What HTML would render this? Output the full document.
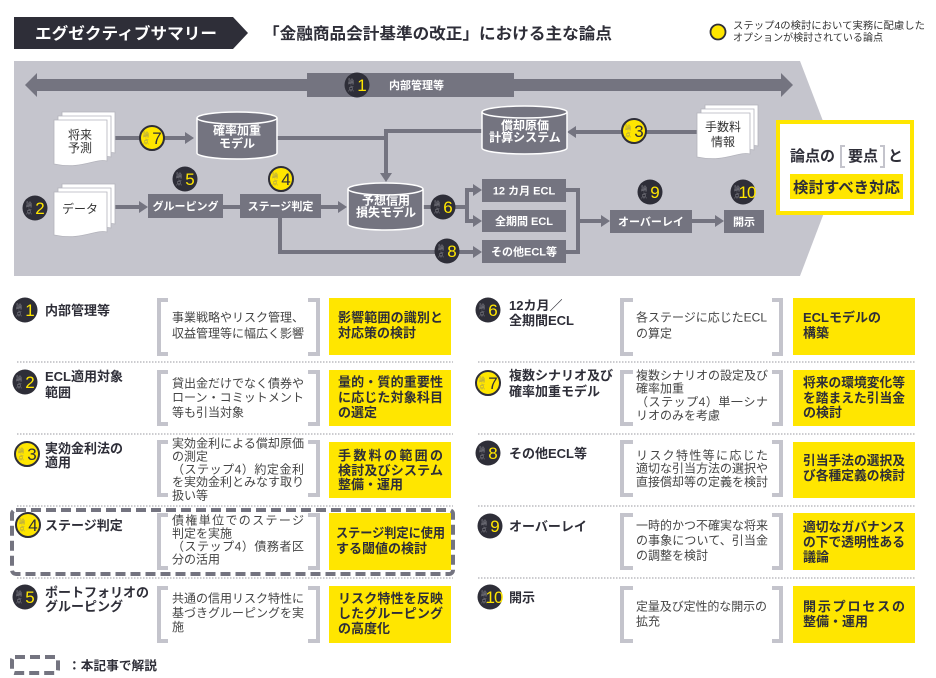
<!DOCTYPE html>
<html><head><meta charset="utf-8">
<style>
html,body{margin:0;padding:0;background:#fff;}
svg{display:block;font-family:"Liberation Sans","Noto Sans CJK JP",sans-serif;}
.w{fill:#fff;font-weight:bold;font-size:11px;text-anchor:middle;}
.cy{fill:#fff;font-weight:bold;font-size:12px;text-anchor:middle;}
.t{fill:#2e2e38;font-weight:bold;font-size:13px;}
.b{fill:#444;font-size:12px;}
.y{fill:#2e2e38;font-weight:bold;font-size:13px;}
.ln{stroke:#747480;stroke-width:4;fill:none;}
.ah{fill:#747480;}
.sm{font-size:6px;text-anchor:middle;}
.dk{fill:#2e2e38;}
.nd{fill:#ffe600;font-size:17px;text-anchor:middle;}
.ny{fill:#2e2e38;font-size:17px;text-anchor:middle;}
.br{stroke:#c4c4cc;stroke-width:4;fill:none;}
.sep{stroke:#9a9aa0;stroke-width:1;stroke-dasharray:1.5 1.5;}
.pg{fill:#fff;stroke:#b4b4bc;stroke-width:0.8;}
.dt{fill:#333;font-size:12px;text-anchor:middle;}
</style></head><body>
<svg width="936" height="678" viewBox="0 0 936 678">
<defs>
<g id="bd"><circle r="12.5" fill="#2e2e38"/><text x="-6" y="-1" class="sm" fill="#8d8d95">論</text><text x="-6" y="6" class="sm" fill="#8d8d95">点</text></g>
<g id="by"><circle r="12" fill="#ffe600" stroke="#2e2e38" stroke-width="2"/><text x="-6" y="-1" class="sm" fill="#9a9260">論</text><text x="-6" y="6" class="sm" fill="#9a9260">点</text></g>
</defs>

<!-- Header -->
<polygon points="14,17 233,17 248,33 233,49 14,49" fill="#2e2e38"/>
<text x="35" y="39" fill="#fff" font-weight="bold" font-size="16" textLength="182" lengthAdjust="spacingAndGlyphs">エグゼクティブサマリー</text>
<text x="263" y="39" fill="#2e2e38" font-weight="bold" font-size="16" textLength="349" lengthAdjust="spacingAndGlyphs">「金融商品会計基準の改正」における主な論点</text>
<circle cx="718" cy="32" r="7.5" fill="#ffe600" stroke="#2e2e38" stroke-width="1.8"/>
<text x="733" y="29" fill="#333" font-size="10" textLength="192" lengthAdjust="spacingAndGlyphs">ステップ4の検討において実務に配慮した</text>
<text x="733" y="41" fill="#333" font-size="10" textLength="150" lengthAdjust="spacingAndGlyphs">オプションが検討されている論点</text>

<!-- Diagram background -->
<polygon points="14,61 800,61 841,168 800,276 14,276" fill="#c5c5cd"/>

<!-- Top arrow -->
<rect x="36" y="79" width="746" height="12" fill="#747480"/>
<polygon points="25,85 37,73 37,97" fill="#747480"/>
<polygon points="793,85 781,73 781,97" fill="#747480"/>
<rect x="307" y="73" width="207" height="24" fill="#747480"/>
<g transform="translate(357,85)"><use href="#bd"/><text x="5" y="6" class="nd">1</text></g>
<text x="389" y="89" fill="#fff" font-weight="bold" font-size="11">内部管理等</text>

<!-- connectors -->
<path class="ln" d="M115,138 H186"/>
<polygon class="ah" points="194,138 185,132 185,144"/>
<path class="ln" d="M277,138 H386"/>
<path class="ln" d="M482,131 H386 V174"/>
<polygon class="ah" points="386,182 380,173 392,173"/>
<path class="ln" d="M697,132 H575"/>
<polygon class="ah" points="567,132 576,126 576,138"/>
<path class="ln" d="M115,207 H140"/>
<polygon class="ah" points="148,207 139,201 139,213"/>
<path class="ln" d="M223,207 H240"/>
<path class="ln" d="M321,207 H339"/>
<polygon class="ah" points="347,207 338,201 338,213"/>
<path class="ln" d="M423,207 H467"/>
<path class="ln" d="M474,190 H467 V221 H474"/>
<polygon class="ah" points="482,190 473,184 473,196"/>
<polygon class="ah" points="482,221 473,215 473,227"/>
<path class="ln" d="M280,218 V252 H474"/>
<polygon class="ah" points="482,252 473,246 473,258"/>
<path class="ln" d="M566,190 H578 V252 H566"/>
<path class="ln" d="M578,221 H602"/>
<polygon class="ah" points="610,221 601,215 601,227"/>
<path class="ln" d="M692,221 H716"/>
<polygon class="ah" points="724,221 715,215 715,227"/>

<!-- documents -->
<path class="pg" d="M62,112 H115 V153 C103,150 90,162 62,156 Z"/>
<path class="pg" d="M58,116 H111 V157 C99,154 86,166 58,160 Z"/>
<path class="pg" d="M54,120 H107 V161 C95,158 82,170 54,164 Z"/>
<text x="80" y="139" class="dt">将来</text>
<text x="80" y="152" class="dt">予測</text>

<path class="pg" d="M62,184 H115 V224 C103,221 90,233 62,227 Z"/>
<path class="pg" d="M58,188 H111 V228 C99,225 86,237 58,231 Z"/>
<path class="pg" d="M54,192 H107 V232 C95,229 82,241 54,235 Z"/>
<text x="80" y="213" class="dt">データ</text>

<path class="pg" d="M705,105 H758 V146 C746,143 733,155 705,149 Z"/>
<path class="pg" d="M701,109 H754 V150 C742,147 729,159 701,153 Z"/>
<path class="pg" d="M697,113 H750 V154 C738,151 725,163 697,157 Z"/>
<text x="723" y="131" class="dt">手数料</text>
<text x="723" y="146" class="dt">情報</text>

<!-- cylinders -->
<path d="M197,118 A40,6 0 0 1 277,118 V153 A40,6 0 0 1 197,153 Z" fill="#747480" stroke="#fff" stroke-width="1.5"/>
<path d="M197,118 A40,6 0 0 0 277,118" fill="none" stroke="#fff" stroke-width="1.5"/>
<text x="237" y="134.5" class="cy">確率加重</text>
<text x="237" y="147.5" class="cy">モデル</text>

<path d="M482,112 A42.5,6 0 0 1 567,112 V148 A42.5,6 0 0 1 482,148 Z" fill="#747480" stroke="#fff" stroke-width="1.5"/>
<path d="M482,112 A42.5,6 0 0 0 567,112" fill="none" stroke="#fff" stroke-width="1.5"/>
<text x="525" y="129.5" class="cy">償却原価</text>
<text x="525" y="141.5" class="cy" font-size="11.5">計算システム</text>

<path d="M348,189 A37.5,6 0 0 1 423,189 V224 A37.5,6 0 0 1 348,224 Z" fill="#747480" stroke="#fff" stroke-width="1.5"/>
<path d="M348,189 A37.5,6 0 0 0 423,189" fill="none" stroke="#fff" stroke-width="1.5"/>
<text x="386" y="204.5" class="cy">予想信用</text>
<text x="386" y="216.5" class="cy">損失モデル</text>

<!-- boxes -->
<rect x="148" y="194" width="75" height="24" fill="#747480"/>
<text x="185.5" y="210" class="w">グルーピング</text>
<rect x="240" y="194" width="81" height="24" fill="#747480"/>
<text x="280.5" y="210" class="w">ステージ判定</text>
<rect x="482" y="179" width="84" height="23" fill="#747480"/>
<text x="524" y="194.5" class="w">12 カ月 ECL</text>
<rect x="482" y="210" width="84" height="22" fill="#747480"/>
<text x="524" y="225" class="w">全期間 ECL</text>
<rect x="482" y="240" width="84" height="23" fill="#747480"/>
<text x="524" y="255.5" class="w">その他ECL等</text>
<rect x="610" y="210" width="82" height="23" fill="#747480"/>
<text x="651" y="225.5" class="w">オーバーレイ</text>
<rect x="724" y="210" width="40" height="23" fill="#747480"/>
<text x="744" y="225.5" class="w">開示</text>

<!-- diagram badges -->
<g transform="translate(152,138)"><use href="#by"/><text x="5" y="6" class="ny">7</text></g>
<g transform="translate(634,131)"><use href="#by"/><text x="5" y="6" class="ny">3</text></g>
<g transform="translate(35,208)"><use href="#bd"/><text x="5" y="6" class="nd">2</text></g>
<g transform="translate(185,179)"><use href="#bd"/><text x="5" y="6" class="nd">5</text></g>
<g transform="translate(281,179)"><use href="#by"/><text x="5" y="6" class="ny">4</text></g>
<g transform="translate(443,207)"><use href="#bd"/><text x="5" y="6" class="nd">6</text></g>
<g transform="translate(447,251)"><use href="#bd"/><text x="5" y="6" class="nd">8</text></g>
<g transform="translate(650,192)"><use href="#bd"/><text x="5" y="6" class="nd">9</text></g>
<g transform="translate(743,192)"><use href="#bd"/><text x="4" y="6" class="nd" font-size="15" letter-spacing="-1">10</text></g>

<!-- yellow summary box -->
<rect x="778" y="122" width="134" height="91" fill="#fff" stroke="#ffe600" stroke-width="4"/>
<text x="790" y="161" fill="#2e2e38" font-weight="bold" font-size="15" textLength="45" lengthAdjust="spacingAndGlyphs">論点の</text>
<path d="M845,146 H841 V167 H845" fill="none" stroke="#c4c4cc" stroke-width="2"/>
<text x="848" y="161" fill="#2e2e38" font-weight="bold" font-size="15" textLength="30" lengthAdjust="spacingAndGlyphs">要点</text>
<path d="M880,146 H884 V167 H880" fill="none" stroke="#c4c4cc" stroke-width="2"/>
<text x="888" y="161" fill="#2e2e38" font-weight="bold" font-size="15">と</text>
<rect x="790" y="174" width="113" height="25" fill="#ffe600"/>
<text x="793" y="192.5" fill="#2e2e38" font-weight="bold" font-size="15" textLength="107" lengthAdjust="spacingAndGlyphs">検討すべき対応</text>

<!-- separators -->
<line class="sep" x1="17" y1="362" x2="453" y2="362"/>
<line class="sep" x1="17" y1="434" x2="453" y2="434"/>
<line class="sep" x1="17" y1="506" x2="453" y2="506"/>
<line class="sep" x1="17" y1="578" x2="453" y2="578"/>
<line class="sep" x1="478" y1="362" x2="915" y2="362"/>
<line class="sep" x1="478" y1="434" x2="915" y2="434"/>
<line class="sep" x1="478" y1="506" x2="915" y2="506"/>
<line class="sep" x1="478" y1="578" x2="915" y2="578"/>

<!-- dashed highlight for row 4 -->
<rect x="12" y="510" width="441" height="64" rx="4" fill="none" stroke="#747480" stroke-width="4" stroke-dasharray="10 5"/>

<!-- brackets left -->
<path class="br" d="M168,300 H159 V354 H168 M308,300 H318 V354 H308"/>
<path class="br" d="M168,372 H159 V424 H168 M308,372 H318 V424 H308"/>
<path class="br" d="M168,442 H159 V495 H168 M308,442 H318 V495 H308"/>
<path class="br" d="M168,515 H159 V568 H168 M308,515 H318 V568 H308"/>
<path class="br" d="M168,588 H159 V641 H168 M308,588 H318 V641 H308"/>
<!-- brackets right -->
<path class="br" d="M633,300 H622 V354 H633 M772,300 H781 V354 H772"/>
<path class="br" d="M633,372 H622 V424 H633 M772,372 H781 V424 H772"/>
<path class="br" d="M633,442 H622 V495 H633 M772,442 H781 V495 H772"/>
<path class="br" d="M633,515 H622 V568 H633 M772,515 H781 V568 H772"/>
<path class="br" d="M633,588 H622 V641 H633 M772,588 H781 V641 H772"/>

<!-- yellow boxes -->
<rect x="329" y="298" width="122" height="57" fill="#ffe600"/>
<rect x="329" y="370" width="122" height="56" fill="#ffe600"/>
<rect x="329" y="442" width="122" height="56" fill="#ffe600"/>
<rect x="329" y="513" width="122" height="57" fill="#ffe600"/>
<rect x="329" y="586" width="122" height="57" fill="#ffe600"/>
<rect x="793" y="298" width="122" height="57" fill="#ffe600"/>
<rect x="793" y="370" width="122" height="56" fill="#ffe600"/>
<rect x="793" y="442" width="122" height="56" fill="#ffe600"/>
<rect x="793" y="513" width="122" height="57" fill="#ffe600"/>
<rect x="793" y="586" width="122" height="57" fill="#ffe600"/>

<!-- list badges -->
<g transform="translate(25,310)"><use href="#bd"/><text x="5" y="6" class="nd">1</text></g>
<g transform="translate(25,382)"><use href="#bd"/><text x="5" y="6" class="nd">2</text></g>
<g transform="translate(27,454)"><use href="#by"/><text x="5" y="6" class="ny">3</text></g>
<g transform="translate(28,525)"><use href="#by"/><text x="5" y="6" class="ny">4</text></g>
<g transform="translate(25,597)"><use href="#bd"/><text x="5" y="6" class="nd">5</text></g>
<g transform="translate(488,310)"><use href="#bd"/><text x="5" y="6" class="nd">6</text></g>
<g transform="translate(488,383)"><use href="#by"/><text x="5" y="6" class="ny">7</text></g>
<g transform="translate(488,453)"><use href="#bd"/><text x="5" y="6" class="nd">8</text></g>
<g transform="translate(490,526)"><use href="#bd"/><text x="5" y="6" class="nd">9</text></g>
<g transform="translate(490,597)"><use href="#bd"/><text x="4" y="6" class="nd" font-size="15" letter-spacing="-1">10</text></g>

<!-- left titles -->
<text x="45" y="315" class="t">内部管理等</text>
<text x="45" y="381" class="t">ECL適用対象</text>
<text x="45" y="397" class="t">範囲</text>
<text x="45" y="453" class="t">実効金利法の</text>
<text x="45" y="467" class="t">適用</text>
<text x="45" y="530" class="t">ステージ判定</text>
<text x="45" y="597" class="t">ポートフォリオの</text>
<text x="45" y="611" class="t">グルーピング</text>
<!-- right titles -->
<text x="509" y="310" class="t">12カ月／</text>
<text x="509" y="325" class="t">全期間ECL</text>
<text x="509" y="380" class="t">複数シナリオ及び</text>
<text x="509" y="396" class="t">確率加重モデル</text>
<text x="509" y="458" class="t">その他ECL等</text>
<text x="509" y="531" class="t">オーバーレイ</text>
<text x="509" y="602" class="t">開示</text>

<!-- left bracket texts -->
<text x="172" y="321.5" class="b" textLength="132" lengthAdjust="spacing">事業戦略やリスク管理、</text>
<text x="172" y="337.5" class="b" textLength="132" lengthAdjust="spacing">収益管理等に幅広く影響</text>
<text x="172" y="387.5" class="b" textLength="132" lengthAdjust="spacing">貸出金だけでなく債券や</text>
<text x="172" y="401.5" class="b" textLength="132" lengthAdjust="spacing">ローン・コミットメント</text>
<text x="172" y="416.5" class="b">等も引当対象</text>
<text x="172" y="447.5" class="b" textLength="132" lengthAdjust="spacing">実効金利による償却原価</text>
<text x="172" y="460.5" class="b">の測定</text>
<text x="172" y="473.5" class="b" textLength="132" lengthAdjust="spacing">（ステップ4）約定金利</text>
<text x="172" y="486" class="b" textLength="132" lengthAdjust="spacing">を実効金利とみなす取り</text>
<text x="172" y="499.5" class="b">扱い等</text>
<text x="172" y="524.5" class="b" textLength="132" lengthAdjust="spacing">債権単位でのステージ</text>
<text x="172" y="537.5" class="b">判定を実施</text>
<text x="172" y="550.5" class="b" textLength="132" lengthAdjust="spacing">（ステップ4）債務者区</text>
<text x="172" y="563.5" class="b">分の活用</text>
<text x="172" y="602.5" class="b" textLength="132" lengthAdjust="spacing">共通の信用リスク特性に</text>
<text x="172" y="617" class="b" textLength="132" lengthAdjust="spacing">基づきグルーピングを実</text>
<text x="172" y="631" class="b">施</text>
<!-- right bracket texts -->
<text x="636" y="321.5" class="b" textLength="131" lengthAdjust="spacing">各ステージに応じたECL</text>
<text x="636" y="337.5" class="b">の算定</text>
<text x="636" y="379.5" class="b" textLength="132" lengthAdjust="spacing">複数シナリオの設定及び</text>
<text x="636" y="392.5" class="b">確率加重</text>
<text x="636" y="406" class="b" textLength="132" lengthAdjust="spacing">（ステップ4）単一シナ</text>
<text x="636" y="419.5" class="b">リオのみを考慮</text>
<text x="636" y="459.5" class="b" textLength="132" lengthAdjust="spacing">リスク特性等に応じた</text>
<text x="636" y="472.5" class="b" textLength="132" lengthAdjust="spacing">適切な引当方法の選択や</text>
<text x="636" y="486" class="b" textLength="132" lengthAdjust="spacing">直接償却等の定義を検討</text>
<text x="636" y="529.5" class="b" textLength="132" lengthAdjust="spacing">一時的かつ不確実な将来</text>
<text x="636" y="544.5" class="b" textLength="132" lengthAdjust="spacing">の事象について、引当金</text>
<text x="636" y="559.5" class="b">の調整を検討</text>
<text x="636" y="610.5" class="b" textLength="131" lengthAdjust="spacing">定量及び定性的な開示の</text>
<text x="636" y="625.5" class="b">拡充</text>

<!-- left yellow texts -->
<text x="338" y="322" class="y" textLength="105" lengthAdjust="spacing">影響範囲の識別と</text>
<text x="338" y="337.5" class="y">対応策の検討</text>
<text x="338" y="386.5" class="y" textLength="105" lengthAdjust="spacing">量的・質的重要性</text>
<text x="338" y="402" class="y" textLength="105" lengthAdjust="spacing">に応じた対象科目</text>
<text x="338" y="417" class="y">の選定</text>
<text x="338" y="460" class="y" textLength="105" lengthAdjust="spacing">手数料の範囲の</text>
<text x="338" y="475" class="y" textLength="105" lengthAdjust="spacing">検討及びシステム</text>
<text x="338" y="489" class="y">整備・運用</text>
<text x="336" y="537.5" class="y" textLength="109" lengthAdjust="spacingAndGlyphs">ステージ判定に使用</text>
<text x="336" y="553" class="y">する閾値の検討</text>
<text x="338" y="603" class="y" textLength="105" lengthAdjust="spacing">リスク特性を反映</text>
<text x="338" y="618" class="y" textLength="105" lengthAdjust="spacing">したグルーピング</text>
<text x="338" y="633" class="y">の高度化</text>
<!-- right yellow texts -->
<text x="803" y="322" class="y">ECLモデルの</text>
<text x="803" y="337.5" class="y">構築</text>
<text x="803" y="387" class="y" textLength="102" lengthAdjust="spacingAndGlyphs">将来の環境変化等</text>
<text x="803" y="402.5" class="y" textLength="102" lengthAdjust="spacingAndGlyphs">を踏まえた引当金</text>
<text x="803" y="417" class="y">の検討</text>
<text x="803" y="465" class="y" textLength="102" lengthAdjust="spacingAndGlyphs">引当手法の選択及</text>
<text x="803" y="480" class="y" textLength="102" lengthAdjust="spacingAndGlyphs">び各種定義の検討</text>
<text x="803" y="531.5" class="y" textLength="102" lengthAdjust="spacingAndGlyphs">適切なガバナンス</text>
<text x="803" y="546.5" class="y" textLength="102" lengthAdjust="spacingAndGlyphs">の下で透明性ある</text>
<text x="803" y="561.5" class="y">議論</text>
<text x="803" y="611" class="y" textLength="102" lengthAdjust="spacing">開示プロセスの</text>
<text x="803" y="626" class="y">整備・運用</text>

<!-- legend -->
<rect x="12" y="657" width="46" height="16" rx="3" fill="none" stroke="#747480" stroke-width="4" stroke-dasharray="10 5"/>
<text x="68" y="670" fill="#2e2e38" font-weight="bold" font-size="12.5" textLength="89" lengthAdjust="spacingAndGlyphs">：本記事で解説</text>
</svg>
</body></html>
